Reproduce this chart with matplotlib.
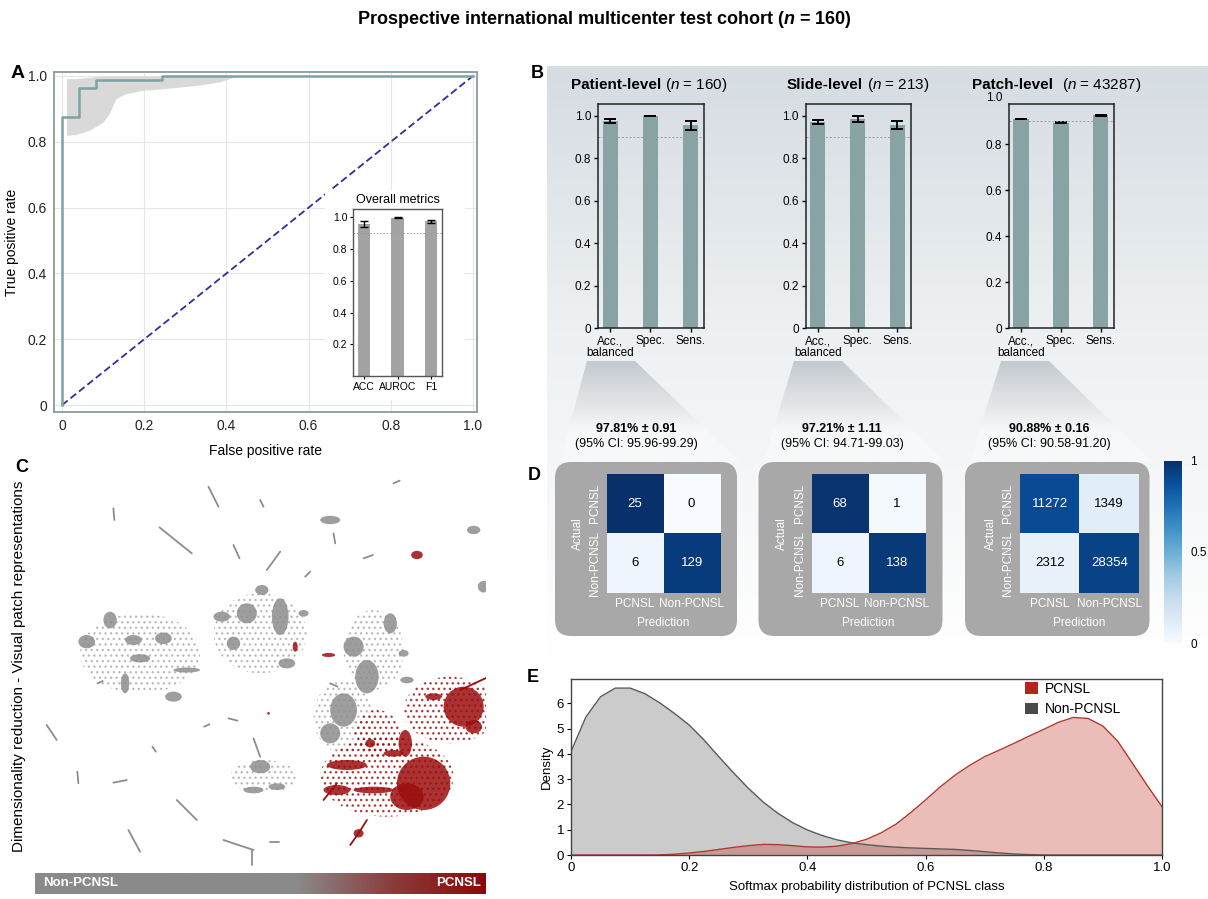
import numpy as np
import matplotlib
matplotlib.use("Agg")
import matplotlib.pyplot as plt
from matplotlib.patches import Ellipse, Polygon, FancyBboxPatch, Rectangle, Patch
from matplotlib.colors import LinearSegmentedColormap

plt.rcParams['font.family'] = ['Liberation Sans', 'DejaVu Sans']
plt.rcParams['mathtext.fontset'] = 'custom'
plt.rcParams['mathtext.rm'] = 'Liberation Sans'
plt.rcParams['mathtext.it'] = 'Liberation Sans:italic'
plt.rcParams['mathtext.bf'] = 'Liberation Sans:bold:italic'

# ---------------- data ----------------
# A: ROC curve + bootstrap band
roc_fpr = [0, 0, 0.041, 0.041, 0.082, 0.082, 0.243, 0.243, 1.0]
roc_tpr = [0, 0.876, 0.876, 0.963, 0.963, 0.988, 0.988, 1.0, 1.0]
ci_fpr = [0.011, 0.034, 0.067, 0.1, 0.115, 0.131, 0.155, 0.196, 0.253, 0.334, 0.383, 0.415, 0.423]
ci_low = [0.82, 0.822, 0.835, 0.86, 0.886, 0.931, 0.946, 0.956, 0.962, 0.972, 0.982, 0.995, 1.0]
ci_high = [0.992, 0.992, 0.996, 1.0, 1.0, 1.0, 1.0, 1.0, 1.0, 1.0, 1.0, 1.0, 1.0]

overall_names = ['ACC', 'AUROC', 'F1']
overall_vals = [0.958, 0.997, 0.975]
overall_err = [0.018, 0.002, 0.01]

# B: bar charts per level
level_names = ['Patient-level', 'Slide-level', 'Patch-level']
level_n = [160, 213, 43287]
metric_names = ['Acc.,\nbalanced', 'Spec.', 'Sens.']
level_vals = [[0.978, 1.0, 0.956], [0.972, 0.986, 0.958], [0.909, 0.893, 0.925]]
level_err = [[0.009, 0.001, 0.02], [0.011, 0.014, 0.017], [0.002, 0.002, 0.002]]
bal_acc_text = ['97.81% ± 0.91', '97.21% ± 1.11', '90.88% ± 0.16']
ci_text = ['(95% CI: 95.96-99.29)', '(95% CI: 94.71-99.03)', '(95% CI: 90.58-91.20)']

# D: confusion matrices (rows: actual PCNSL / Non-PCNSL, cols: predicted)
cm_labels = ['PCNSL', 'Non-PCNSL']
conf_mats = [[[25, 0], [6, 129]],
             [[68, 1], [6, 138]],
             [[11272, 1349], [2312, 28354]]]

# E: density of softmax probability
dens_x = [0.0, 0.025, 0.05, 0.075, 0.1, 0.125, 0.15, 0.175, 0.2, 0.225, 0.25, 0.275, 0.3,
          0.325, 0.35, 0.375, 0.4, 0.425, 0.45, 0.475, 0.5, 0.525, 0.55, 0.575, 0.6, 0.625,
          0.65, 0.675, 0.7, 0.725, 0.75, 0.775, 0.8, 0.825, 0.85, 0.875, 0.9, 0.925, 0.95,
          0.975, 1.0]
dens_non = [4.09, 5.45, 6.26, 6.6, 6.6, 6.38, 6.02, 5.6, 5.14, 4.55, 3.89, 3.25, 2.64,
            2.1, 1.65, 1.28, 0.99, 0.77, 0.6, 0.48, 0.41, 0.35, 0.31, 0.28, 0.26, 0.24,
            0.22, 0.18, 0.13, 0.08, 0.04, 0.015, 0, 0, 0, 0, 0, 0, 0, 0, 0]
dens_pcnsl = [0, 0, 0, 0, 0, 0, 0.005, 0.03, 0.08, 0.14, 0.22, 0.3, 0.37,
              0.42, 0.41, 0.37, 0.32, 0.31, 0.35, 0.45, 0.62, 0.88, 1.22, 1.68, 2.18, 2.7,
              3.16, 3.55, 3.89, 4.15, 4.42, 4.7, 4.97, 5.25, 5.44, 5.4, 5.1, 4.5, 3.63,
              2.75, 1.91]

# C: UMAP embedding, read as blobs (u, v, width, height, class)
dense_u = [99.0, 142.0, 145.0, 26.0, 33.0, 49.0, 52.0, 37.5, 42.0, 40.0, 56.0,
           78.5, 84.0, 74.0, 66.5, 70.0, 86.0, 91.0,
           117.0, 106.0, 110.0, 103.0, 99.0, 122.0, 121.0, 78.0, 76.0, 83.0,
           125.0, 80.5, 98.5, 88.5, 139.0, 142.0, 130.0, 127.0, 122.0, 104.0, 101.0,
           112.0, 121.5, 111.0, 118.0, 107.5]
dense_v = [21.0, 24.0, 41.0, 57.5, 51.0, 56.5, 74.0, 70.0, 62.5, 57.0, 66.0,
           42.0, 50.0, 49.0, 50.0, 58.0, 64.0, 49.0,
           52.0, 59.0, 68.0, 78.0, 85.0, 69.0, 61.0, 95.0, 102.0, 101.0,
           31.5, 79.0, 61.5, 59.0, 77.0, 83.0, 74.0, 100.0, 104.0, 94.5, 102.0,
           102.0, 88.0, 88.0, 91.0, 115.0]
dense_w = [6.0, 4.0, 3.5, 5.0, 4.0, 5.0, 5.0, 2.5, 6.0, 5.0, 8.0,
           4.0, 5.0, 6.0, 5.0, 4.0, 5.0, 3.0,
           4.0, 6.0, 7.0, 8.0, 6.0, 4.0, 3.0, 6.0, 6.0, 5.0,
           3.5, 0.8, 4.0, 1.5, 12.0, 5.0, 5.0, 16.0, 10.0, 12.0, 8.0,
           12.0, 4.0, 3.0, 6.0, 3.0]
dense_h = [2.5, 2.5, 3.5, 4.0, 5.0, 3.5, 3.0, 6.0, 2.5, 3.0, 1.5,
           3.0, 11.0, 6.0, 3.0, 4.0, 3.0, 2.0,
           6.0, 6.0, 10.0, 10.0, 6.0, 2.0, 2.0, 4.0, 2.0, 2.0,
           2.5, 0.8, 1.2, 3.0, 12.0, 4.0, 2.0, 16.0, 8.0, 3.0, 3.0,
           2.0, 8.0, 2.5, 2.0, 2.5]
dense_cls = ['N'] * 28 + ['P'] * 16

sparse_u = [42, 78, 112, 103, 79, 135, 116, 113]
sparse_v = [61, 55, 60, 80, 98, 78, 98, 85]
sparse_w = [36, 28, 18, 18, 20, 28, 40, 14]
sparse_h = [24, 24, 24, 22, 10, 20, 24, 14]
sparse_cls = ['N', 'N', 'N', 'N', 'N', 'P', 'P', 'P']

streak_u0 = [62.5, 47.8, 34.0, 78.0, 70.0, 80.0, 91.5, 118.0, 109.0, 14.0, 23.2, 34.0,
             53.0, 38.5, 67.0, 75.5, 81.0, 68.5, 61.2, 76.0, 45.7, 100.0, 99.0, 29.3,
             138.0, 107.5, 107.5, 97.0]
streak_v0 = [11.0, 23.2, 17.5, 15.0, 28.5, 36.0, 38.0, 10.0, 32.5, 82.5, 96.5, 99.8,
             105.0, 114.0, 117.0, 120.0, 117.5, 80.5, 83.0, 86.5, 89.0, 25.0, 70.0, 70.0,
             72.0, 115.0, 115.0, 105.0]
streak_u1 = [65.5, 57.5, 34.3, 79.0, 71.8, 84.0, 93.0, 119.8, 111.8, 17.0, 23.5, 38.0,
             59.0, 42.0, 76.0, 75.5, 83.5, 71.2, 62.8, 78.0, 46.7, 100.5, 101.2, 30.8,
             147.0, 110.0, 105.0, 101.0]
streak_v1 = [17.0, 31.0, 21.0, 17.0, 32.5, 30.5, 36.5, 9.2, 31.5, 87.0, 100.0, 99.0,
             111.0, 120.5, 120.0, 124.5, 117.5, 81.2, 82.3, 92.0, 90.5, 28.0, 71.0, 69.3,
             67.8, 111.0, 118.5, 100.0]
streak_cls = ['N'] * 24 + ['P'] * 4

# ---------------- layout helpers (pixel coordinates) ----------------
W, H = 1208, 899
fig = plt.figure(figsize=(W / 100, H / 100), dpi=100)
renderer = fig.canvas.get_renderer()


def pax(x0, y0, x1, y1, **kw):
    return fig.add_axes([x0 / W, 1 - y1 / H, (x1 - x0) / W, (y1 - y0) / H], **kw)


def ptext(x, y, s, **kw):
    return fig.text(x / W, 1 - y / H, s, **kw)


GRAY_PT = '#8d8d8d'
RED_PT = '#9b0e0e'
BAR_TEAL = '#87a3a3'

# ---------------- background (B gradient, wedges, D boxes) ----------------
bg = pax(0, 0, W, H, zorder=-5)
bg.set_xlim(0, W)
bg.set_ylim(H, 0)
bg.axis('off')
grad = np.linspace(0, 1, 256).reshape(-1, 1)
bg_cmap = LinearSegmentedColormap.from_list(
    'bg', [(0, '#d5dce2'), (0.45, '#eef1f3'), (0.75, '#f6f8f9'), (1, '#ffffff')])
bg.imshow(grad, extent=(547, W, 660, 66), cmap=bg_cmap, aspect='auto')

wedge_cmap = LinearSegmentedColormap.from_list(
    'wedge', [(0, '#c3c9ce'), (0.7, '#f7f8f9'), (1, '#f7f8f9')])
box_left = [555, 758.5, 965]
box_right = [737, 942.5, 1149.5]
wedge_top_l = [587, 794, 1001]
wedge_top_r = [635, 842, 1049]
for bl, br, tl, tr in zip(box_left, box_right, wedge_top_l, wedge_top_r):
    poly = Polygon([(tl, 361), (tr, 361), (br + 3, 462), (bl + 5, 462)],
                   closed=True, fc='none', ec='none')
    bg.add_patch(poly)
    im = bg.imshow(grad, extent=(bl, br + 5, 462, 361), cmap=wedge_cmap, aspect='auto')
    im.set_clip_path(poly)
    bg.add_patch(FancyBboxPatch((bl, 462), br - bl, 174,
                                boxstyle='round,pad=0,rounding_size=16',
                                fc='#a8a8a8', ec='none'))

# ---------------- title ----------------
ptext(604, 20, r'Prospective international multicenter test cohort ($\bf{n}$ = 160)',
      fontsize=13, fontweight='bold', ha='center', va='center')

# ---------------- A: ROC ----------------
axA = pax(54, 72, 477, 412)
axA.set_xlim(-0.0195, 1.0097)
axA.set_ylim(-0.021, 1.012)
axA.set_axisbelow(True)
axA.grid(True, color='#e6e6e6', lw=0.8)
axA.fill_between(ci_fpr, ci_low, ci_high, color='#d9d9d9', lw=0, zorder=1.2)
axA.plot([0, 1], [0, 1], ls=(0, (4, 2)), color='#2d2f9c', lw=1.3, zorder=1.5)
axA.add_patch(Rectangle((0.64, 0.015), 0.34, 0.64, fc='white', ec='none', zorder=1.6))
axA.plot(roc_fpr, roc_tpr, color='#7fa2a2', lw=1.8, zorder=3)
axA.set_xticks([0, 0.2, 0.4, 0.6, 0.8, 1.0])
axA.set_xticklabels(['0', '0.2', '0.4', '0.6', '0.8', '1.0'])
axA.set_yticks([0, 0.2, 0.4, 0.6, 0.8, 1.0])
axA.set_yticklabels(['0', '0.2', '0.4', '0.6', '0.8', '1.0'])
axA.tick_params(length=0, labelsize=10, pad=5, colors='#222222')
for s in axA.spines.values():
    s.set_color('#8c9b9b')
    s.set_linewidth(1.3)
axA.set_xlabel('False positive rate', fontsize=10, labelpad=8)
axA.set_ylabel('True positive rate', fontsize=10, labelpad=6)
ptext(18, 73, 'A', fontsize=14, fontweight='bold', ha='center', va='center')

axI = pax(353, 209, 442, 376)
xi = np.arange(len(overall_names))
axI.bar(xi, overall_vals, width=0.37, color='#a3a3a3')
axI.errorbar(xi, overall_vals, yerr=overall_err, fmt='none', ecolor='black',
             elinewidth=1.0, capsize=3, capthick=1.0)
axI.axhline(0.9, color='#9a9a9a', ls=(0, (2, 2)), lw=0.6)
axI.set_xlim(-0.33, 2.33)
axI.set_ylim(0, 1.052)
axI.set_xticks(xi)
axI.set_xticklabels(overall_names)
axI.set_yticks([0.2, 0.4, 0.6, 0.8, 1.0])
axI.set_yticklabels(['0.2', '0.4', '0.6', '0.8', '1.0'])
axI.tick_params(labelsize=7.5, length=2, pad=2)
for s in axI.spines.values():
    s.set_color('#555555')
    s.set_linewidth(1.0)
axI.set_title('Overall metrics', fontsize=9, pad=4)

# ---------------- B: bar charts ----------------
b_boxes = [(598.3, 104.3, 704, 328.3), (805.7, 104.3, 910.7, 328.3), (1009, 104.3, 1114, 328.3)]
b_ytop = [1.055, 1.055, 0.973]
title_x = [570.7, 786.7, 971.7]
title_gap = [4, 4, 9]
xb = np.arange(len(metric_names))
for i, (box, name, n) in enumerate(zip(b_boxes, level_names, level_n)):
    ax = pax(*box)
    ax.set_facecolor('none')
    ax.bar(xb, level_vals[i], width=0.39, color=BAR_TEAL)
    ax.errorbar(xb, level_vals[i], yerr=level_err[i], fmt='none', ecolor='black',
                elinewidth=1.3, capsize=4, capthick=1.4)
    ax.axhline(0.9, color='#9a9a9a', ls=(0, (2, 2)), lw=0.7)
    ax.set_xlim(-0.3, 2.335)
    ax.set_ylim(0, b_ytop[i])
    ax.set_xticks(xb)
    ax.set_xticklabels(metric_names, linespacing=0.95)
    ticks = [0, 0.2, 0.4, 0.6, 0.8, 1.0] if b_ytop[i] >= 1 else [0, 0.2, 0.4, 0.6, 0.8]
    ax.set_yticks(ticks)
    ax.set_yticklabels(['0' if t == 0 else f'{t:.1f}' for t in ticks])
    if b_ytop[i] < 1:
        ax.text(-0.06, 1.0, '1.0', transform=ax.get_yaxis_transform(), ha='right',
                va='center', fontsize=8.5, clip_on=False)
    ax.tick_params(labelsize=8.5, length=3, width=1, pad=2, direction='out')
    for s in ax.spines.values():
        s.set_color('#222222')
        s.set_linewidth(1.1)
    t = ptext(title_x[i], 85, name, fontsize=11, fontweight='bold', ha='left', va='center')
    w = t.get_window_extent(renderer).width
    ptext(title_x[i] + w + title_gap[i], 85, f'($\\it{{n}}$ = {n})', fontsize=11,
          ha='left', va='center')
ptext(537, 73, 'B', fontsize=13, fontweight='bold', ha='center', va='center')

# ---------------- D: confusion matrices ----------------
pct_x = [636, 842, 1049.5]
for x, a, c in zip(pct_x, bal_acc_text, ci_text):
    ptext(x, 429, a, fontsize=9, fontweight='bold', ha='center', va='center')
    ptext(x, 444, c, fontsize=9, ha='center', va='center')

h_boxes = [(606.7, 474, 720, 592.7), (811.5, 474, 925, 592.7), (1020, 474, 1139, 592.7)]
for box, cm in zip(h_boxes, conf_mats):
    ax = pax(*box)
    cm = np.array(cm, dtype=float)
    norm = cm / cm.sum(axis=1, keepdims=True)
    im = ax.imshow(norm, cmap='Blues', vmin=0, vmax=1, aspect='auto')
    for r in range(2):
        for c in range(2):
            ax.text(c, r, f'{int(cm[r, c])}', ha='center', va='center', fontsize=9.5,
                    color='white' if norm[r, c] > 0.5 else 'black')
    ax.set_xticks([0, 1])
    ax.set_xticklabels(cm_labels)
    ax.set_yticks([0, 1])
    ax.set_yticklabels(cm_labels, rotation=90, va='center')
    ax.tick_params(length=0, labelsize=8.5, labelcolor='white', pad=4)
    for s in ax.spines.values():
        s.set_visible(False)
    ax.set_xlabel('Prediction', fontsize=8.5, color='white', labelpad=5)
    ax.set_ylabel('Actual', fontsize=8.5, color='white', labelpad=4)

cax = pax(1164, 461, 1182, 643)
cb = fig.colorbar(im, cax=cax, ticks=[0, 0.5, 1])
cb.ax.set_yticklabels(['0', '0.5', '1'])
cb.outline.set_visible(False)
cax.tick_params(length=0, pad=6, labelsize=8.5)
ptext(534, 476, 'D', fontsize=13, fontweight='bold', ha='center', va='center')

# ---------------- C: UMAP ----------------
axC = pax(35, 462, 486, 870)
axC.set_xlim(10.5, 145.7)
axC.set_ylim(126.0, 3.6)
axC.axis('off')
colmap = {'N': GRAY_PT, 'P': RED_PT}
for u, v, w, h, c in zip(sparse_u, sparse_v, sparse_w, sparse_h, sparse_cls):
    axC.add_patch(Ellipse((u, v), w, h, fc='none', ec=colmap[c], lw=0, hatch='...',
                          alpha=0.5 if c == 'N' else 0.75))
for u0, v0, u1, v1, c in zip(streak_u0, streak_v0, streak_u1, streak_v1, streak_cls):
    axC.plot([u0, u1], [v0, v1], color=colmap[c], lw=1.3, solid_capstyle='round')
for u, v, w, h, c in zip(dense_u, dense_v, dense_w, dense_h, dense_cls):
    axC.add_patch(Ellipse((u, v), w, h, fc=colmap[c], ec='none', alpha=0.85))
axC.text(-0.035, 0.5, 'Dimensionality reduction - Visual patch representations',
         transform=axC.transAxes, rotation=90, ha='center', va='center', fontsize=11)

axS = pax(35, 873, 486, 894)
strip_cmap = LinearSegmentedColormap.from_list(
    'strip', [(0, '#8a8a8a'), (0.58, '#8a8a8a'), (0.8, '#8a3a3a'), (1, '#8e0808')])
axS.imshow(np.linspace(0, 1, 256).reshape(1, -1), cmap=strip_cmap, aspect='auto')
axS.axis('off')
axS.text(0.018, 0.5, 'Non-PCNSL', transform=axS.transAxes, color='white',
         fontweight='bold', fontsize=9.5, ha='left', va='center')
axS.text(0.99, 0.5, 'PCNSL', transform=axS.transAxes, color='white',
         fontweight='bold', fontsize=9.5, ha='right', va='center')
ptext(22, 468, 'C', fontsize=13, fontweight='bold', ha='center', va='center')

# ---------------- E: densities ----------------
axE = pax(571, 679, 1162, 855)
axE.fill_between(dens_x, dens_non, color='#7f7f7f', alpha=0.4, lw=0)
axE.plot(dens_x, dens_non, color='#5a5a5a', lw=1.0)
axE.fill_between(dens_x, dens_pcnsl, color='#c0392b', alpha=0.33, lw=0)
axE.plot(dens_x, dens_pcnsl, color='#b03a2e', lw=1.0)
axE.set_xlim(0, 1)
axE.set_ylim(0, 6.96)
axE.set_xticks([0, 0.2, 0.4, 0.6, 0.8, 1.0])
axE.set_xticklabels(['0', '0.2', '0.4', '0.6', '0.8', '1.0'])
axE.set_yticks(range(7))
axE.tick_params(labelsize=9.5, length=3, pad=2)
for s in axE.spines.values():
    s.set_color('#444444')
    s.set_linewidth(1.0)
axE.set_xlabel('Softmax probability distribution of PCNSL class', fontsize=9.5, labelpad=5)
axE.set_ylabel('Density', fontsize=9.5, labelpad=3)
axE.legend(handles=[Patch(facecolor='#b3261e', label='PCNSL'),
                    Patch(facecolor='#4a4a4a', label='Non-PCNSL')],
           loc='upper left', bbox_to_anchor=((1025 - 571) / 591, (855 - 682) / 176),
           frameon=False, handlelength=0.9, handleheight=0.9, handletextpad=0.5,
           borderpad=0, borderaxespad=0, labelspacing=0.45, fontsize=10)
ptext(533, 677, 'E', fontsize=13, fontweight='bold', ha='center', va='center')

fig.savefig('out.png', dpi=100)
